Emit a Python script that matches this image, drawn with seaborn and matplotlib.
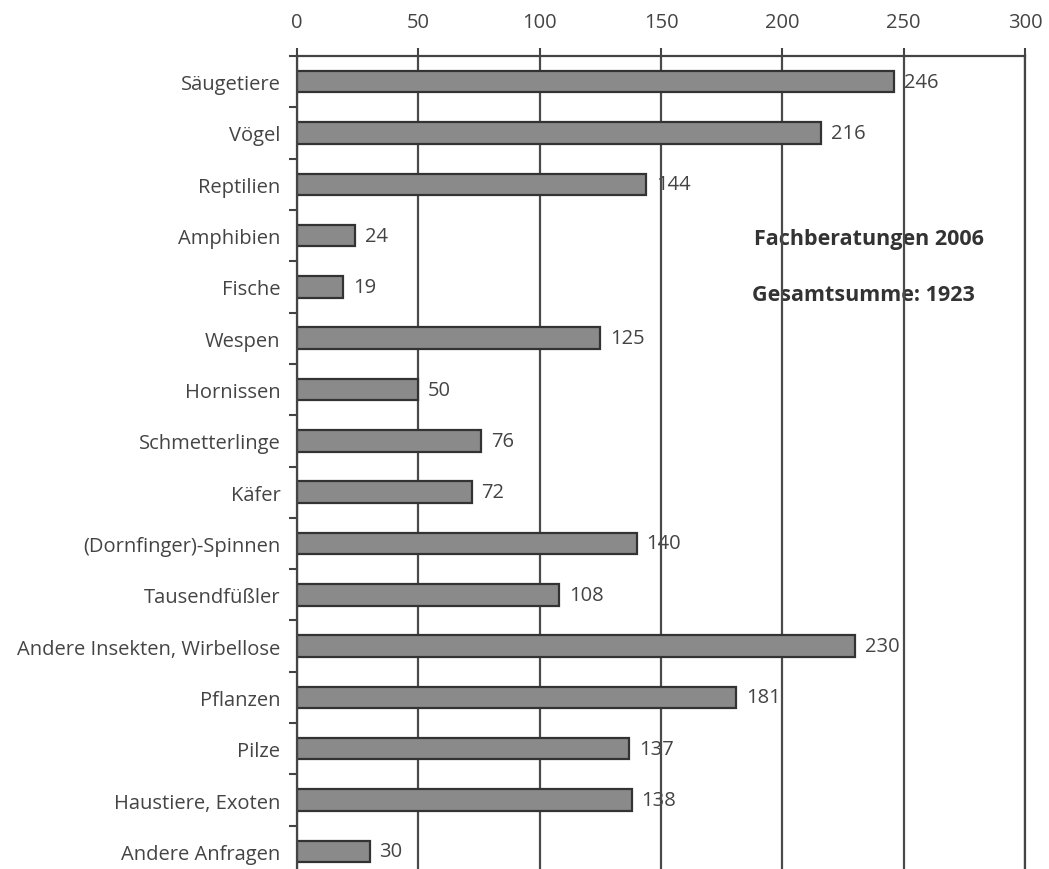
import matplotlib
matplotlib.use("Agg")
import matplotlib.pyplot as plt
import seaborn as sns
import pandas as pd
import numpy as np

categories = ["Säugetiere", "Vögel", "Reptilien", "Amphibien", "Fische", "Wespen",
              "Hornissen", "Schmetterlinge", "Käfer", "(Dornfinger)-Spinnen",
              "Tausendfüßler", "Andere Insekten, Wirbellose", "Pflanzen", "Pilze",
              "Haustiere, Exoten", "Andere Anfragen"]
values = [246, 216, 144, 24, 19, 125, 50, 76, 72, 140, 108, 230, 181, 137, 138, 30]
x_ticks = [0, 50, 100, 150, 200, 250, 300]
title_lines = ["Fachberatungen 2006", "Gesamtsumme: 1923"]

sns.set_style("white")
plt.rcParams['font.family'] = ['Open Sans', 'DejaVu Sans']

df = pd.DataFrame({"cat": categories, "val": values})

fig = plt.figure(figsize=(10.49, 8.70), dpi=100)
ax = fig.add_axes([297/1049, -8/870, (1025-297)/1049, (870+8-57)/870])

sns.barplot(data=df, x="val", y="cat", orient="h", color="#8a8a8a",
            edgecolor="#333333", linewidth=1.6, width=0.42, saturation=1, ax=ax, zorder=2)

ax.set_xlim(0, 300)
ax.set_ylim(len(categories) - 0.5, -0.5)
ax.set_xlabel("")
ax.set_ylabel("")

fs = 14.5
ax.xaxis.tick_top()
ax.set_xticks(x_ticks)
ax.set_xticklabels([str(t) for t in x_ticks])
ax.tick_params(axis="x", which="major", top=True, bottom=False, direction="out",
               length=6, width=1.5, color="#444444", pad=11, labelsize=fs,
               labelcolor="#444444")
ax.tick_params(axis="y", which="major", left=False, length=0, pad=12,
               labelsize=fs, labelcolor="#444444")
ax.set_yticks(np.arange(-0.5, len(categories), 1.0), minor=True)
ax.tick_params(axis="y", which="minor", left=True, direction="out", length=6,
               width=1.5, color="#444444")

ax.set_axisbelow(True)
ax.grid(axis="x", color="#4a4a4a", linewidth=1.6)
ax.grid(axis="y", visible=False)

for side in ["left", "top", "right"]:
    ax.spines[side].set_visible(True)
    ax.spines[side].set_color("#444444")
    ax.spines[side].set_linewidth(1.6)
ax.spines["bottom"].set_visible(False)

for i, v in enumerate(values):
    ax.annotate(str(v), xy=(v, i), xytext=(7, 0), textcoords="offset points",
                ha="left", va="center", fontsize=fs, color="#444444", zorder=0.3)

ax.text(188.5, 3.05, title_lines[0], ha="left", va="center", fontsize=15.5,
        fontweight="bold", color="#333333", zorder=0.3)
ax.text(187.5, 4.15, title_lines[1], ha="left", va="center", fontsize=15.5,
        fontweight="bold", color="#333333", zorder=0.3)

fig.savefig("out.png", dpi=100)
